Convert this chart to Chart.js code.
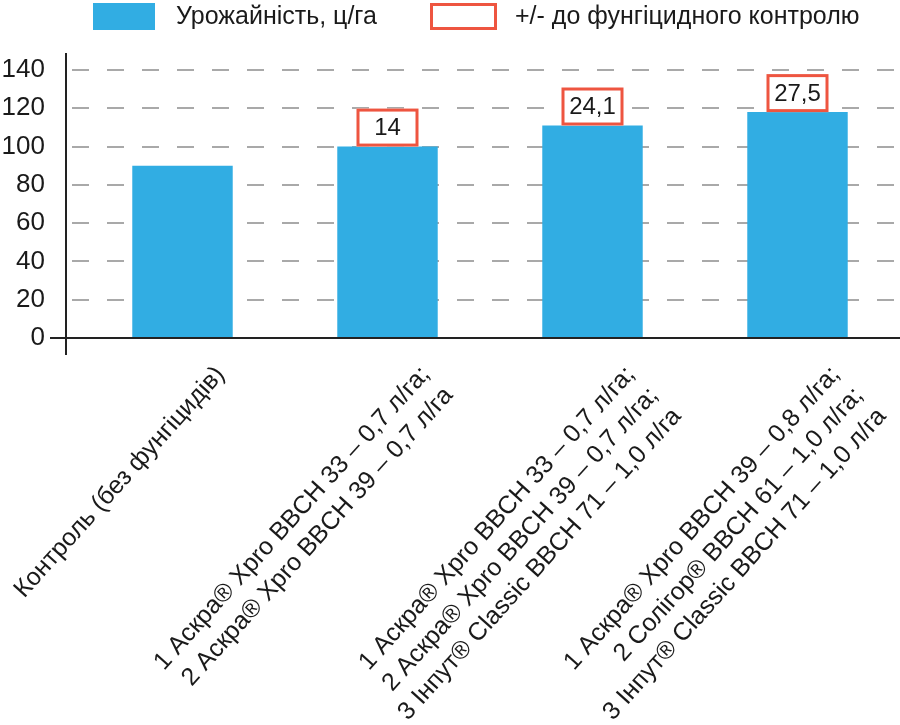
<!DOCTYPE html>
<html lang="uk">
<head>
    <meta charset="UTF-8">
    <title>Урожайність, ц/га</title>
    <style>
        body, html {
            margin: 0;
            padding: 0;
            background: #fff;
        }
        #chart {
            width: 900px;
            height: 725px;
            position: relative;
        }
    </style>
</head>
<body>

<div id="chart">
    <canvas id="myChart"></canvas>
</div>

<script src="https://cdn.jsdelivr.net/npm/chart.js"></script>
<script type="text/javascript">
    // дані
    var categories = [
        ['Контроль (без фунгіцидів)'],
        ['1 Аскра® Xpro BBCH 33 – 0,7 л/га;', '2 Аскра® Xpro BBCH 39 – 0,7 л/га'],
        ['1 Аскра® Xpro BBCH 33 – 0,7 л/га;', '2 Аскра® Xpro BBCH 39 – 0,7 л/га;', '3 Інпут® Classic BBCH 71 – 1,0 л/га'],
        ['1 Аскра® Xpro BBCH 39 – 0,8 л/га;', '2 Солігор® BBCH 61 – 1,0 л/га;', '3 Інпут® Classic BBCH 71 – 1,0 л/га']
    ];
    var yieldValues = [90, 100, 111, 118];
    var diffValues = [null, 14, 24.1, 27.5];
    var yieldLabel = 'Урожайність, ц/га';
    var diffLabel = '+/- до фунгіцидного контролю';
    var yMin = 0, yMax = 140, yStep = 20;

    var FONT = '"Liberation Sans", Arial, Helvetica, sans-serif';
    var BLUE = '#31ade3';
    var RED = '#ee5540';
    var TEXT = '#1a1a1a';

    function fmt(v) {
        return String(v).replace('.', ',');
    }

    var decorPlugin = {
        id: 'decor',
        beforeDatasetsDraw: function(chart) {
            var ctx = chart.ctx, ys = chart.scales.y, area = chart.chartArea;
            var axisX = area.left - 14;
            ctx.save();
            // пунктирна сітка
            ctx.strokeStyle = '#a9a9a9';
            ctx.lineWidth = 2;
            ctx.setLineDash([17, 18]);
            for (var v = yMin + yStep; v <= yMax; v += yStep) {
                var py = Math.round(ys.getPixelForValue(v));
                ctx.beginPath();
                ctx.moveTo(axisX + 6, py);
                ctx.lineTo(area.right, py);
                ctx.stroke();
            }
            ctx.restore();
        },
        afterDatasetsDraw: function(chart) {
            var ctx = chart.ctx, ys = chart.scales.y, area = chart.chartArea;
            var axisX = area.left - 14;
            var zeroY = Math.round(ys.getPixelForValue(0));
            ctx.save();
            // осі
            ctx.strokeStyle = '#222';
            ctx.lineWidth = 2;
            ctx.beginPath();
            ctx.moveTo(axisX, ys.getPixelForValue(yMax) - 17);
            ctx.lineTo(axisX, zeroY + 17);
            ctx.moveTo(axisX - 16, zeroY);
            ctx.lineTo(area.right, zeroY);
            ctx.stroke();

            // червоні рамки з різницею
            var meta = chart.getDatasetMeta(0);
            ctx.font = '24px ' + FONT;
            ctx.textAlign = 'center';
            ctx.textBaseline = 'middle';
            meta.data.forEach(function(bar, i) {
                if (diffValues[i] === null) return;
                var w = 62, h = 38;
                ctx.fillStyle = '#fff';
                ctx.fillRect(bar.x - w / 2, bar.y - h, w, h);
                ctx.strokeStyle = RED;
                ctx.lineWidth = 3;
                ctx.strokeRect(bar.x - w / 2 + 1.5, bar.y - h + 1.5, w - 3, h - 3);
                ctx.fillStyle = TEXT;
                ctx.fillText(fmt(diffValues[i]), bar.x, bar.y - h / 2 + 1);
            });
            ctx.restore();
        },
        afterDraw: function(chart) {
            // легенда
            var ctx = chart.ctx;
            ctx.save();
            ctx.fillStyle = BLUE;
            ctx.fillRect(93, 3, 62, 27);
            ctx.strokeStyle = RED;
            ctx.lineWidth = 3;
            ctx.strokeRect(431.5, 4.5, 64, 24);
            ctx.fillStyle = TEXT;
            ctx.font = '25px ' + FONT;
            ctx.textAlign = 'left';
            ctx.textBaseline = 'middle';
            ctx.fillText(yieldLabel, 176, 17);
            ctx.fillText(diffLabel, 515, 17);
            ctx.restore();
        }
    };

    var ctx = document.getElementById('myChart').getContext('2d');
    window.myChart = new Chart(ctx, {
        type: 'bar',
        data: {
            labels: categories,
            datasets: [{
                label: yieldLabel,
                data: yieldValues,
                backgroundColor: BLUE,
                borderWidth: 0,
                barPercentage: 1,
                categoryPercentage: 0.49
            }]
        },
        options: {
            responsive: true,
            maintainAspectRatio: false,
            animation: false,
            devicePixelRatio: 1,
            layout: {
                padding: { top: 70, left: 0, right: 0, bottom: 0 }
            },
            plugins: {
                legend: { display: false },
                tooltip: { enabled: false }
            },
            scales: {
                x: {
                    grid: { display: false, drawTicks: false },
                    border: { display: false },
                    ticks: {
                        autoSkip: false,
                        minRotation: 48,
                        maxRotation: 48,
                        padding: 22,
                        labelOffset: 38,
                        color: TEXT,
                        font: { family: FONT, size: 25, lineHeight: 1.25 }
                    },
                    afterFit: function(s) {
                        s.paddingLeft = 0;
                        s.paddingRight = 0;
                        s.height = 387;
                    }
                },
                y: {
                    min: yMin,
                    max: yMax,
                    grid: { display: false, drawTicks: false },
                    border: { display: false },
                    ticks: {
                        stepSize: yStep,
                        padding: 35,
                        color: TEXT,
                        font: { family: FONT, size: 26 }
                    },
                    afterFit: function(s) {
                        s.width = 80;
                    }
                }
            }
        },
        plugins: [decorPlugin]
    });
</script>
</body>
</html>
